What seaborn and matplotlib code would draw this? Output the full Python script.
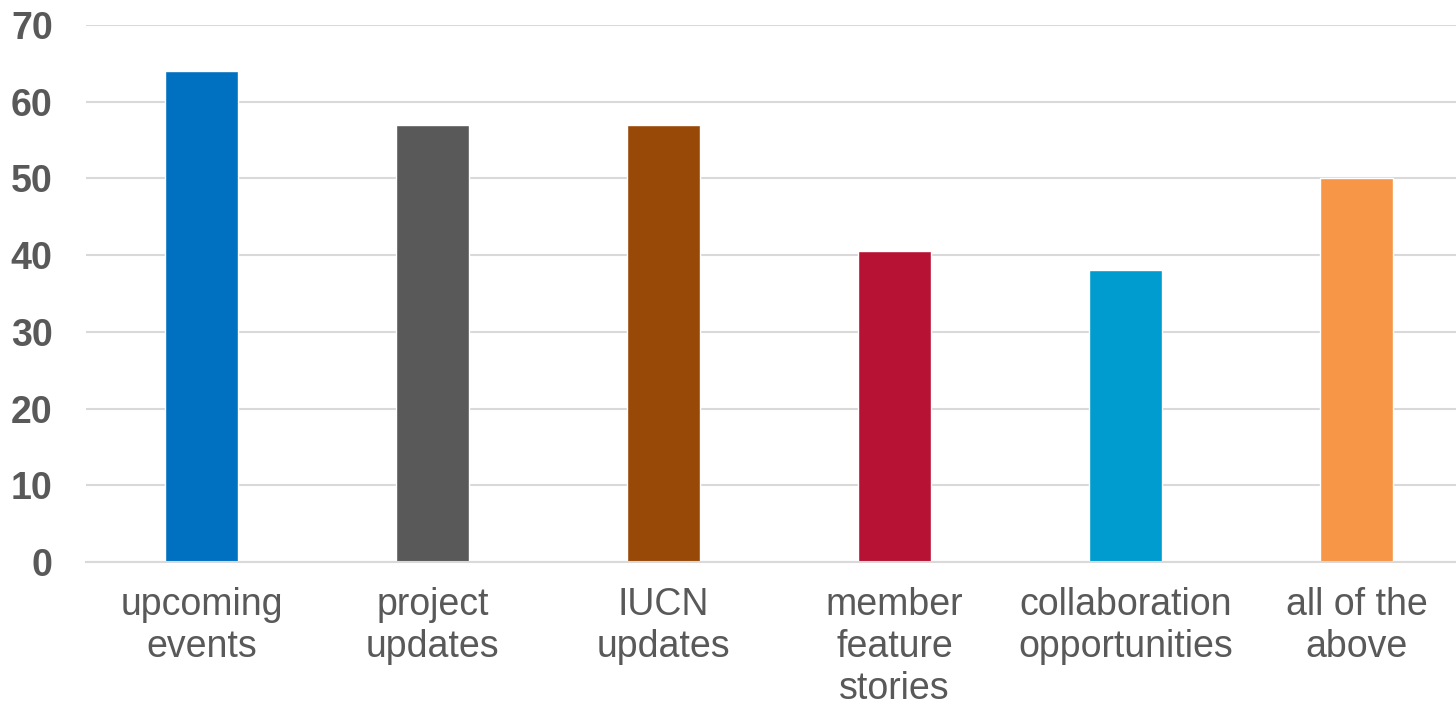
import matplotlib
matplotlib.use("Agg")
import matplotlib.pyplot as plt
import seaborn as sns
import pandas as pd

# ---- data ----
categories = ["upcoming\nevents", "project\nupdates", "IUCN\nupdates",
              "member\nfeature\nstories", "collaboration\nopportunities",
              "all of the\nabove"]
values = [64, 57, 57, 40.5, 38, 50]
colors = ["#0070C0", "#595959", "#984807", "#B71234", "#009BCF", "#F79646"]
y_ticks = [0, 10, 20, 30, 40, 50, 60, 70]

df = pd.DataFrame({"category": categories, "value": values})

sns.set_style("white")
plt.rcParams["font.family"] = ["Liberation Sans", "DejaVu Sans"]

fig = plt.figure(figsize=(14.56, 7.08), dpi=100)
ax = fig.add_axes([86 / 1456, 146 / 708, 1386 / 1456, 537 / 708])

sns.barplot(data=df, x="category", y="value", hue="category",
            palette=colors, width=0.316, legend=False, ax=ax, saturation=1)

ax.set_ylim(0, 70)
ax.set_xlim(-0.5, 5.5)
ax.set_yticks(y_ticks)
ax.yaxis.grid(True, color="#D9D9D9", linewidth=1.5)
ax.set_axisbelow(True)
for s in ["top", "right", "left"]:
    ax.spines[s].set_visible(False)
ax.spines["bottom"].set_color("#D9D9D9")
ax.spines["bottom"].set_linewidth(1.5)

ax.set_xlabel("")
ax.set_ylabel("")
ax.tick_params(axis="y", length=0, pad=24, labelsize=27, labelcolor="#595959")
ax.tick_params(axis="x", length=0, pad=18, labelsize=27, labelcolor="#595959")
for lbl in ax.get_yticklabels():
    lbl.set_fontweight("bold")
for lbl in ax.get_xticklabels():
    lbl.set_linespacing(1.22)

fig.savefig("out.png", dpi=100)
